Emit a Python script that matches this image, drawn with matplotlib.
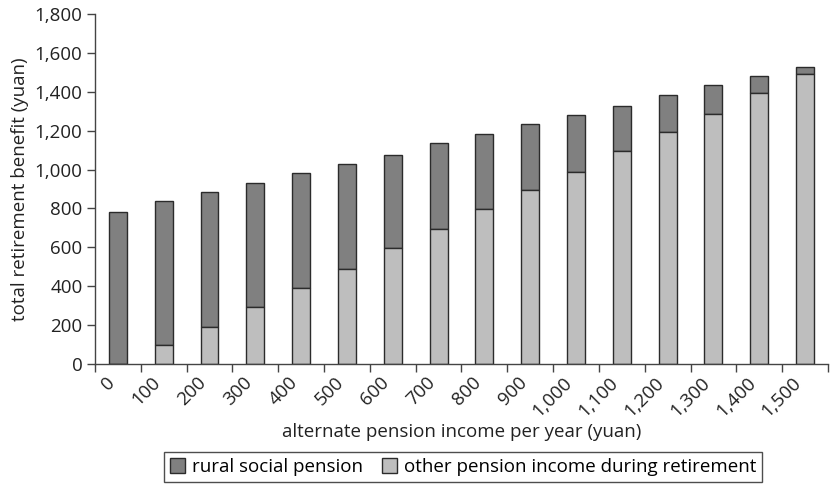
import numpy as np
import matplotlib
matplotlib.use("Agg")
import matplotlib.pyplot as plt
from matplotlib.ticker import FuncFormatter

# data
categories = ["0", "100", "200", "300", "400", "500", "600", "700", "800",
              "900", "1,000", "1,100", "1,200", "1,300", "1,400", "1,500"]
other_income = [0, 95, 190, 295, 393, 490, 594, 692, 797, 893, 989, 1096,
                1192, 1288, 1393, 1491]
rural_pension = [780, 741, 694, 638, 589, 541, 483, 443, 386, 339, 291, 232,
                 192, 146, 89, 39]

plt.rcParams["font.family"] = ["Open Sans", "DejaVu Sans"]
fs = 13.5

fig = plt.figure(figsize=(8.3, 4.84), dpi=100)
ax = fig.add_axes([0.1145, 0.248, 0.883, 0.723])

x = np.arange(len(categories))
w = 0.39
edge = "#2b2b2b"
b1 = ax.bar(x, rural_pension, w, bottom=other_income, color="#808080",
            edgecolor=edge, linewidth=1.0, label="rural social pension")
b2 = ax.bar(x, other_income, w, color="#bebebe", edgecolor=edge,
            linewidth=1.0, label="other pension income during retirement")

ax.set_xlim(-0.5, len(categories) - 0.5)
ax.set_ylim(0, 1800)
ax.set_yticks(range(0, 1801, 200))
ax.yaxis.set_major_formatter(FuncFormatter(lambda v, p: f"{int(v):,}"))

ax.set_xticks(x)
ax.set_xticklabels(categories, rotation=45, ha="right", va="top")
ax.set_xticks(np.arange(-0.5, len(categories), 1.0), minor=True)
ax.tick_params(axis="x", which="major", length=0, pad=7)
ax.tick_params(axis="x", which="minor", length=6, width=1, color="#444444")
ax.tick_params(axis="y", length=6, width=1, color="#444444", pad=3)
ax.tick_params(labelsize=fs, labelcolor="#222222")

for s in ["top", "right"]:
    ax.spines[s].set_visible(False)
for s in ["left", "bottom"]:
    ax.spines[s].set_color("#444444")
    ax.spines[s].set_linewidth(1.0)

ax.set_ylabel("total retirement benefit (yuan)", fontsize=fs, color="#222222",
              labelpad=4)
ax.set_xlabel("alternate pension income per year (yuan)", fontsize=fs,
              color="#222222", labelpad=2)

leg = fig.legend(handles=[b1, b2], loc="center", bbox_to_anchor=(0.558, 0.035),
                 ncol=2, fontsize=fs, frameon=True, fancybox=False,
                 handlelength=0.8, handleheight=0.8, handletextpad=0.4,
                 columnspacing=1.0, borderpad=0.3)
leg.get_frame().set_edgecolor("#222222")
leg.get_frame().set_linewidth(1.0)

fig.savefig("out.png", dpi=100)
